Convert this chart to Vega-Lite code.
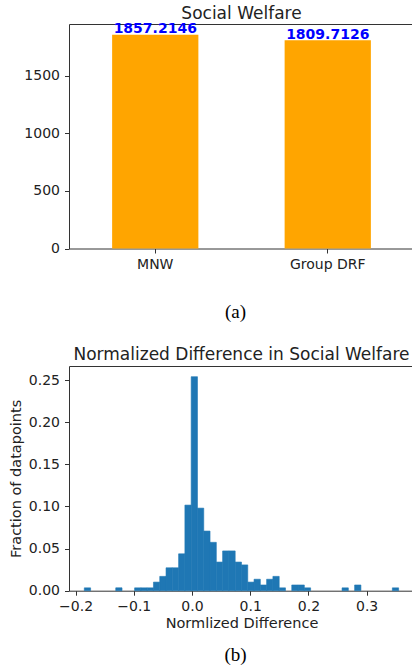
{
  "$schema": "https://vega.github.io/schema/vega-lite/v6.json",
  "padding": {"left": 7, "top": 4, "right": 0, "bottom": 0},
  "bounds": "flush",
  "spacing": 117,
  "title": {"text": "(b)", "orient": "bottom", "anchor": "middle", "frame": "group", "font": "Liberation Serif", "fontSize": 19, "fontWeight": "normal", "color": "#000000", "baseline": "top", "offset": 16, "dx": -6},
  "config": {
    "view": {"stroke": "#333333", "strokeWidth": 1},
    "font": "DejaVu Sans",
    "axis": {"grid": false, "domain": false, "tickColor": "#333333", "tickSize": 4.5, "labelFont": "DejaVu Sans", "labelFontSize": 14, "labelColor": "#222222", "labelPadding": 4, "titleFont": "DejaVu Sans", "titleFontSize": 14.5, "titleFontWeight": "normal", "titleColor": "#222222"},
    "title": {"font": "DejaVu Sans", "fontSize": 17, "fontWeight": "normal", "color": "#222222", "frame": "group"}
  },
  "vconcat": [
    {
      "width": 345,
      "height": 224.5,
      "title": {"text": "Social Welfare", "offset": -1},
      "data": {"values": [
        {"method": "MNW", "welfare": 1857.2146},
        {"method": "Group DRF", "welfare": 1809.7126}
      ]},
      "encoding": {
        "x": {"field": "method", "type": "nominal", "sort": null,
              "scale": {"paddingInner": 0.5, "paddingOuter": 0.25},
              "axis": {"labelAngle": 0, "title": "(a)", "titleFont": "Liberation Serif", "titleFontSize": 19, "titleColor": "#000000", "titleX": 166, "titleY": 63, "titleBaseline": "middle", "titleAlign": "center"}},
        "y": {"field": "welfare", "type": "quantitative",
              "scale": {"domain": [0, 1950], "nice": false},
              "axis": {"values": [0, 500, 1000, 1500], "format": "d", "title": null, "labelPadding": 5}}
      },
      "layer": [
        {"mark": {"type": "bar", "color": "#ffa500"}},
        {"mark": {"type": "text", "color": "#0000ff", "fontWeight": "bold", "fontSize": 14, "baseline": "alphabetic", "dy": -1.5, "font": "DejaVu Sans"},
         "encoding": {"text": {"field": "welfare", "type": "quantitative", "format": ".4f"}}}
      ]
    },
    {
      "width": 345,
      "height": 224.7,
      "title": {"text": "Normalized Difference in Social Welfare", "offset": 2},
      "data": {"values": [
        {"bin_start": -0.1850, "bin_end": -0.1742, "fraction": 0.0034},
        {"bin_start": -0.1310, "bin_end": -0.1202, "fraction": 0.0034},
        {"bin_start": -0.0986, "bin_end": -0.0878, "fraction": 0.0034},
        {"bin_start": -0.0878, "bin_end": -0.0770, "fraction": 0.0034},
        {"bin_start": -0.0770, "bin_end": -0.0662, "fraction": 0.0034},
        {"bin_start": -0.0662, "bin_end": -0.0554, "fraction": 0.0102},
        {"bin_start": -0.0554, "bin_end": -0.0446, "fraction": 0.0170},
        {"bin_start": -0.0446, "bin_end": -0.0338, "fraction": 0.0272},
        {"bin_start": -0.0338, "bin_end": -0.0230, "fraction": 0.0272},
        {"bin_start": -0.0230, "bin_end": -0.0122, "fraction": 0.0438},
        {"bin_start": -0.0122, "bin_end": -0.0014, "fraction": 0.1016},
        {"bin_start": -0.0014, "bin_end": 0.0094, "fraction": 0.2540},
        {"bin_start": 0.0094, "bin_end": 0.0202, "fraction": 0.0980},
        {"bin_start": 0.0202, "bin_end": 0.0310, "fraction": 0.0708},
        {"bin_start": 0.0310, "bin_end": 0.0418, "fraction": 0.0574},
        {"bin_start": 0.0418, "bin_end": 0.0526, "fraction": 0.0340},
        {"bin_start": 0.0526, "bin_end": 0.0634, "fraction": 0.0472},
        {"bin_start": 0.0634, "bin_end": 0.0742, "fraction": 0.0472},
        {"bin_start": 0.0742, "bin_end": 0.0850, "fraction": 0.0340},
        {"bin_start": 0.0850, "bin_end": 0.0958, "fraction": 0.0306},
        {"bin_start": 0.0958, "bin_end": 0.1066, "fraction": 0.0102},
        {"bin_start": 0.1066, "bin_end": 0.1174, "fraction": 0.0136},
        {"bin_start": 0.1174, "bin_end": 0.1282, "fraction": 0.0068},
        {"bin_start": 0.1282, "bin_end": 0.1390, "fraction": 0.0136},
        {"bin_start": 0.1390, "bin_end": 0.1498, "fraction": 0.0170},
        {"bin_start": 0.1498, "bin_end": 0.1606, "fraction": 0.0034},
        {"bin_start": 0.1714, "bin_end": 0.1822, "fraction": 0.0068},
        {"bin_start": 0.1822, "bin_end": 0.1930, "fraction": 0.0068},
        {"bin_start": 0.1930, "bin_end": 0.2038, "fraction": 0.0034},
        {"bin_start": 0.2578, "bin_end": 0.2686, "fraction": 0.0034},
        {"bin_start": 0.2794, "bin_end": 0.2902, "fraction": 0.0068},
        {"bin_start": 0.3442, "bin_end": 0.3550, "fraction": 0.0034}
      ]},
      "mark": {"type": "rect", "color": "#1f77b4", "stroke": "#1f77b4", "strokeWidth": 0.6},
      "encoding": {
        "x": {"field": "bin_start", "type": "quantitative",
              "scale": {"domain": [-0.2113, 0.3814], "nice": false, "zero": false},
              "axis": {"values": [-0.2, -0.1, 0, 0.1, 0.2, 0.3], "format": ".1f", "title": "Normlized Difference", "titlePadding": 3}},
        "x2": {"field": "bin_end"},
        "y": {"field": "fraction", "type": "quantitative",
              "scale": {"domain": [0, 0.2667], "nice": false},
              "axis": {"values": [0, 0.05, 0.1, 0.15, 0.2, 0.25], "format": ".2f", "title": "Fraction of datapoints", "titlePadding": 5, "labelPadding": 5}},
        "y2": {"datum": 0}
      }
    }
  ]
}
